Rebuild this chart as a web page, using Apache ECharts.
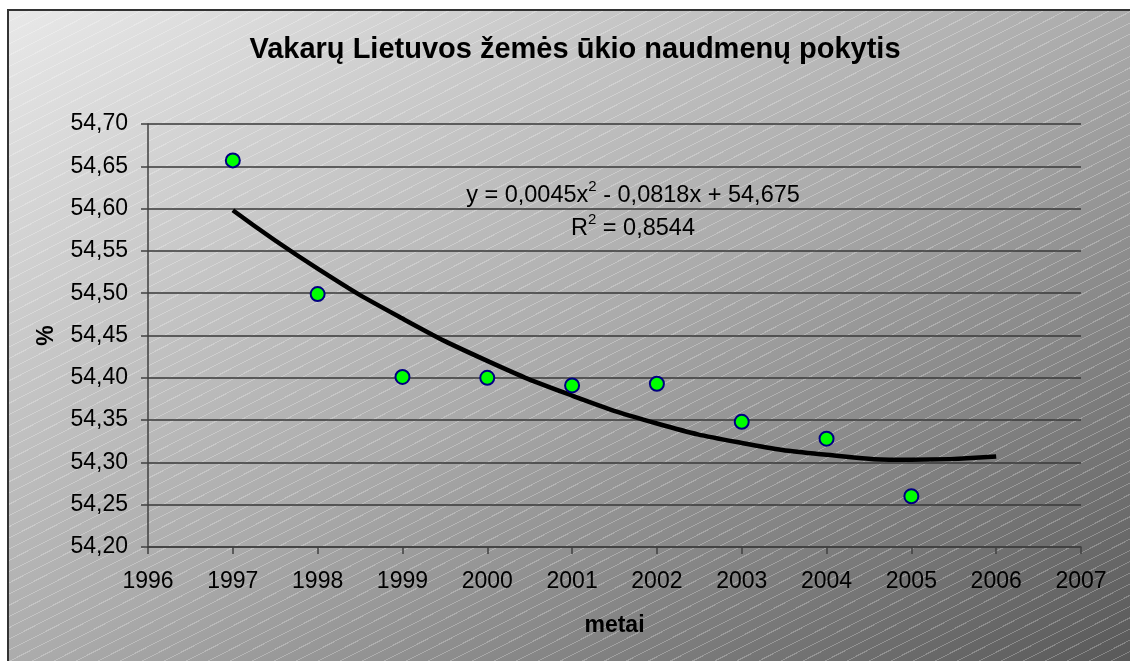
<!DOCTYPE html>
<html>
<head>
<meta charset="utf-8">
<script src="https://cdn.jsdelivr.net/npm/echarts@6/dist/echarts.min.js"></script>
<style>
  html, body { margin: 0; padding: 0; overflow: hidden; width: 1130px; height: 661px; }
  #frame {
    position: absolute; left: 7px; top: 9px; width: 1140px; height: 670px;
    border-left: 2px solid #333; border-top: 2px solid #333;
    background:
      repeating-linear-gradient(153deg, rgba(255,255,255,0) 0 9px, rgba(255,255,255,0.25) 9px 10px),
      linear-gradient(to bottom right, #e8e8e8 0%, #aaaaaa 50%, #555555 100%);
  }
  #main { position: absolute; left: 0; top: 0; width: 1130px; height: 661px; }
</style>
</head>
<body>
<div id="frame"></div>
<div id="main"></div>
<script>
// duomenys
const years = [1997, 1998, 1999, 2000, 2001, 2002, 2003, 2004, 2005]
const share = [54.657, 54.499, 54.401, 54.400, 54.391, 54.393, 54.348, 54.328, 54.260]
// trend (polinomas 2 laipsnio, kaip paveiksle)
const trendYears = [1997, 1998, 1999, 2000, 2001, 2002, 2003, 2004, 2005, 2006]
const trendVals = [54.598, 54.529, 54.470, 54.420, 54.379, 54.346, 54.323, 54.309, 54.303, 54.307]
const eqLine = 'y = 0,0045x{sup|2} - 0,0818x + 54,675'
const r2Line = 'R{sup|2} = 0,8544'

const font = "'Liberation Sans', Arial, sans-serif"
const chart = echarts.init(document.getElementById('main'))

const comma = (v) => v.toFixed(2).replace('.', ',')

chart.setOption({
  backgroundColor: 'transparent',
  animation: false,
  title: {
    text: 'Vakarų Lietuvos žemės ūkio naudmenų pokytis',
    left: 570,
    top: 30,
    textAlign: 'center',
    textStyle: { fontFamily: font, fontSize: 29, fontWeight: 'bold', color: '#000' }
  },
  grid: { left: 148, top: 124, width: 933, height: 423 },
  xAxis: {
    type: 'value',
    min: 1996, max: 2007, interval: 1,
    name: 'metai',
    nameLocation: 'middle',
    nameGap: 67,
    nameTextStyle: { fontFamily: font, fontSize: 23, fontWeight: 'bold', color: '#000' },
    axisLine: { lineStyle: { color: '#404040', width: 1.5 } },
    axisTick: { show: true, length: 7, lineStyle: { color: '#404040', width: 1.5 } },
    axisLabel: { fontFamily: font, fontSize: 23, color: '#000', margin: 23, formatter: (v) => String(v) },
    splitLine: { show: false }
  },
  yAxis: {
    type: 'value',
    min: 54.2, max: 54.7, interval: 0.05,
    name: '%',
    nameLocation: 'middle',
    nameRotate: 90,
    nameGap: 90,
    nameTextStyle: { fontFamily: font, fontSize: 23, fontWeight: 'bold', color: '#000' },
    axisLine: { show: true, lineStyle: { color: '#404040', width: 1.5 } },
    axisTick: { show: true, length: 7, lineStyle: { color: '#404040', width: 1.5 } },
    axisLabel: { fontFamily: font, fontSize: 23, color: '#000', margin: 20, formatter: comma },
    splitLine: { show: true, lineStyle: { color: '#383838', width: 1.5 } }
  },
  graphic: [{
    type: 'text',
    x: 633, y: 179,
    style: {
      text: eqLine + '\n' + r2Line,
      align: 'center',
      verticalAlign: 'top',
      font: '23.5px ' + font,
      lineHeight: 33,
      fill: '#000',
      rich: {
        sup: { fontSize: 15, fontFamily: font, verticalAlign: 'top', fill: '#000' }
      }
    }
  }],
  series: [{
    type: 'line',
    data: trendYears.map((y, i) => [y, trendVals[i]]),
    smooth: true,
    showSymbol: false,
    lineStyle: { color: '#000', width: 4.5 },
    z: 2
  }, {
    type: 'scatter',
    data: years.map((y, i) => [y, share[i]]),
    symbol: 'circle',
    symbolSize: 14,
    itemStyle: { color: '#00ff00', borderColor: '#000080', borderWidth: 2, opacity: 1 },
    z: 3
  }]
})
</script>
</body>
</html>
